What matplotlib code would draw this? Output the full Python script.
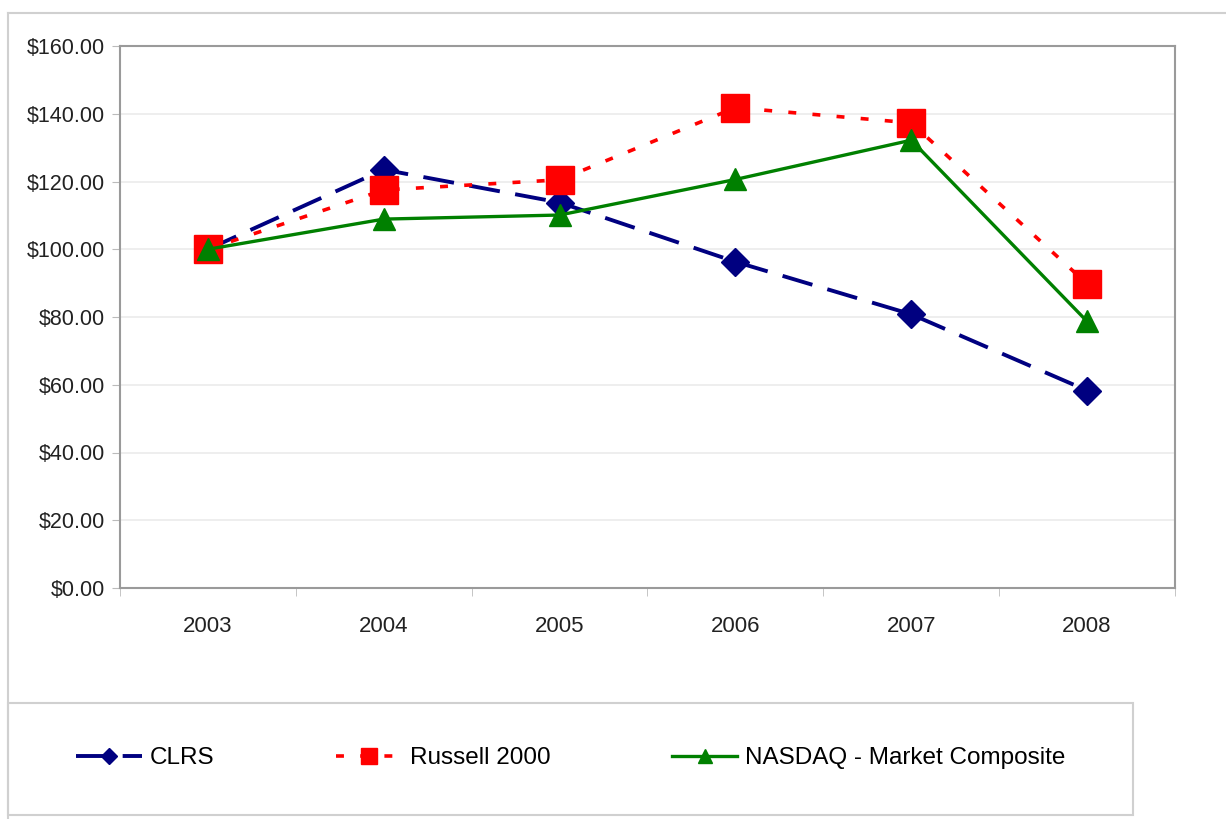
import matplotlib.pyplot as plt
from matplotlib.lines import Line2D
from matplotlib.patches import Rectangle

years = ['2003', '2004', '2005', '2006', '2007', '2008']
clrs = [100.0, 123.5, 113.8, 96.3, 80.8, 58.3]
russell = [100.0, 117.5, 120.5, 141.8, 137.3, 89.8]
nasdaq = [100.0, 108.9, 110.1, 120.6, 132.2, 78.7]

plt.rcParams['font.family'] = ['Liberation Sans', 'DejaVu Sans']

fig = plt.figure(figsize=(12.26, 8.19), dpi=100)
ax = fig.add_axes([120/1226, 1-588/819, 1055/1226, 542/819])

x = range(len(years))
ax.plot(x, clrs, color='#000080', lw=2.8, dashes=(8, 4), marker='D', markersize=14,
        label='CLRS', zorder=3)
ax.plot(x, russell, color='#ff0000', lw=2.6, dashes=(2.2, 4.5), marker='s', markersize=20,
        label='Russell 2000', zorder=4)
ax.plot(x, nasdaq, color='#008000', lw=2.4, marker='^', markersize=16,
        label='NASDAQ - Market Composite', zorder=5)

#axes formatting
ax.set_xlim(-0.5, 5.5)
ax.set_ylim(0, 160)
ax.set_yticks(range(0, 161, 20))
ax.set_yticklabels([f'${v}.00' for v in range(0, 161, 20)])
ax.set_xticks(list(x))
ax.set_xticklabels(years)
ax.set_xticks([i - 0.5 for i in range(7)], minor=True)
ax.tick_params(axis='x', which='major', length=0, pad=20, labelsize=16, colors='#222222')
ax.tick_params(axis='x', which='minor', length=6, color='#bbbbbb')
ax.tick_params(axis='y', length=6, color='#bbbbbb', labelsize=15.5, colors='#222222', pad=5)
ax.yaxis.grid(True, color='#ebebeb', lw=1.2)
ax.set_axisbelow(True)
for s in ax.spines.values():
    s.set_color('#9a9a9a')
    s.set_linewidth(1.5)

#outer frame lines
fig.add_artist(Line2D([8/1226, 1], [1-13/819, 1-13/819], color='#d0d0d0', lw=1.5))
fig.add_artist(Line2D([8/1226, 8/1226], [1-13/819, 0], color='#d0d0d0', lw=1.5))

#legend box
fig.add_artist(Rectangle((8/1226, 1-815/819), 1125/1226, 112/819, transform=fig.transFigure,
                         facecolor='white', edgecolor='#d0d0d0', lw=1.5))
fig.legend(loc='center left', bbox_to_anchor=(64/1226, 1-758/819), ncol=3, frameon=False,
           fontsize=17.5, handlelength=2.7, columnspacing=5.0, handletextpad=0.33,
           markerscale=0.6, borderpad=0)

fig.savefig('out.png', dpi=100, facecolor='white')
